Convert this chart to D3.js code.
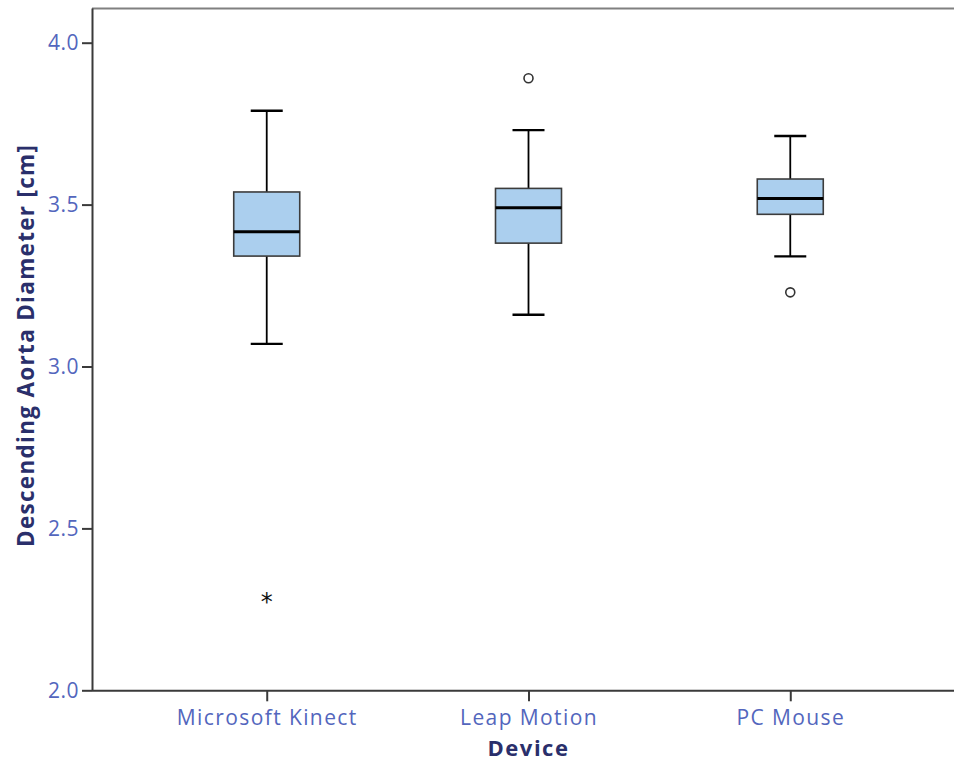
<!DOCTYPE html>
<html><head><meta charset="utf-8">
<script src="https://cdn.jsdelivr.net/npm/d3@7"></script>
<style>
body{margin:0;background:#fff;}
svg{display:block;}
</style></head>
<body>
<svg id="chart" width="954" height="764"></svg>
<script>
const categories = ["Microsoft Kinect", "Leap Motion", "PC Mouse"];
const whiskerLow  = [3.07, 3.16, 3.34];
const q1          = [3.341, 3.381, 3.470];
const medians     = [3.416, 3.490, 3.519];
const q3          = [3.539, 3.550, 3.579];
const whiskerHigh = [3.79, 3.73, 3.712];
const outliers    = [
  {cat: "Microsoft Kinect", value: 2.28, type: "extreme"},
  {cat: "Leap Motion", value: 3.89, type: "outlier"},
  {cat: "PC Mouse", value: 3.229, type: "outlier"}
];
const yTicks = [2.0, 2.5, 3.0, 3.5, 4.0];
const yTitle = "Descending Aorta Diameter [cm]";
const xTitle = "Device";

(function(){
const svg = d3.select("#chart");
const pLeft = 92, pRight = 954, pTop = 8.5, pBottom = 690.3;

const y = d3.scaleLinear().domain([2.0, 4.0]).range([pBottom, 42.7]);
const x = d3.scalePoint().domain(categories).range([92, 965]).padding(0.6675);

const labelColor = "#5366bd";
const titleColor = "#2a2f6b";
const font = "'Open Sans', 'Noto Sans', sans-serif";

svg.append("line").attr("x1", pLeft).attr("x2", pRight).attr("y1", pTop).attr("y2", pTop)
  .attr("stroke", "#808080").attr("stroke-width", 2);

const yAxis = svg.append("g").attr("transform", `translate(${pLeft},0)`)
  .call(d3.axisLeft(y).tickValues(yTicks).tickFormat(d3.format(".1f")).tickSize(10).tickSizeOuter(0));
yAxis.select(".domain").attr("stroke", "#3a3a3a").attr("stroke-width", 2)
  .attr("d", `M0.5,${pTop}V${pBottom}`);
yAxis.selectAll(".tick line").attr("stroke", "#3a3a3a").attr("stroke-width", 2);
yAxis.selectAll(".tick text").attr("fill", labelColor).attr("font-size", 21)
  .attr("font-family", font).attr("x", -13).attr("letter-spacing", 0.5);

const xAxis = svg.append("g").attr("transform", `translate(0,${pBottom})`)
  .call(d3.axisBottom(x).tickSize(11).tickSizeOuter(0));
xAxis.select(".domain").attr("stroke", "#3a3a3a").attr("stroke-width", 2)
  .attr("d", `M${pLeft},0.5H${pRight}`);
xAxis.selectAll(".tick line").attr("stroke", "#3a3a3a").attr("stroke-width", 2);
xAxis.selectAll(".tick text").attr("fill", labelColor).attr("font-size", 21)
  .attr("font-family", font).attr("y", 35).attr("dy", 0).attr("letter-spacing", 1.4);

const boxW = 66, capW = 32;
const g = svg.append("g");
categories.forEach((c, i) => {
  const cx = x(c);
  g.append("line").attr("x1", cx).attr("x2", cx).attr("y1", y(q3[i])).attr("y2", y(whiskerHigh[i]))
    .attr("stroke", "#000").attr("stroke-width", 1.8);
  g.append("line").attr("x1", cx).attr("x2", cx).attr("y1", y(q1[i])).attr("y2", y(whiskerLow[i]))
    .attr("stroke", "#000").attr("stroke-width", 1.8);
  [whiskerHigh[i], whiskerLow[i]].forEach(v => {
    g.append("line").attr("x1", cx - capW/2).attr("x2", cx + capW/2).attr("y1", y(v)).attr("y2", y(v))
      .attr("stroke", "#000").attr("stroke-width", 2.4);
  });
  g.append("rect").attr("x", cx - boxW/2).attr("width", boxW)
    .attr("y", y(q3[i])).attr("height", y(q1[i]) - y(q3[i]))
    .attr("fill", "#abcfee").attr("stroke", "#3c3c3c").attr("stroke-width", 1.6);
  g.append("line").attr("x1", cx - boxW/2).attr("x2", cx + boxW/2)
    .attr("y1", y(medians[i])).attr("y2", y(medians[i]))
    .attr("stroke", "#000").attr("stroke-width", 3);
});

outliers.forEach(o => {
  if (o.type === "outlier") {
    g.append("circle").attr("cx", x(o.cat)).attr("cy", y(o.value)).attr("r", 4.5)
      .attr("fill", "#fff").attr("stroke", "#333").attr("stroke-width", 1.6);
  } else {
    g.append("text").attr("x", x(o.cat)).attr("y", y(o.value) + 10).attr("text-anchor", "middle")
      .attr("font-size", 24).attr("font-family", "'DejaVu Sans', sans-serif").attr("fill", "#111").text("*");
  }
});

svg.append("text").attr("transform", `translate(34,${(pTop + pBottom)/2 - 4}) rotate(-90)`)
  .attr("text-anchor", "middle").attr("font-size", 22.5).attr("font-weight", "bold")
  .attr("letter-spacing", 1.3)
  .attr("font-family", font).attr("fill", titleColor).text(yTitle);
svg.append("text").attr("x", x("Leap Motion")).attr("y", 756).attr("text-anchor", "middle")
  .attr("font-size", 22).attr("font-weight", "bold").attr("letter-spacing", 1.5)
  .attr("font-family", font).attr("fill", titleColor).text(xTitle);
})();
</script>
</body></html>
